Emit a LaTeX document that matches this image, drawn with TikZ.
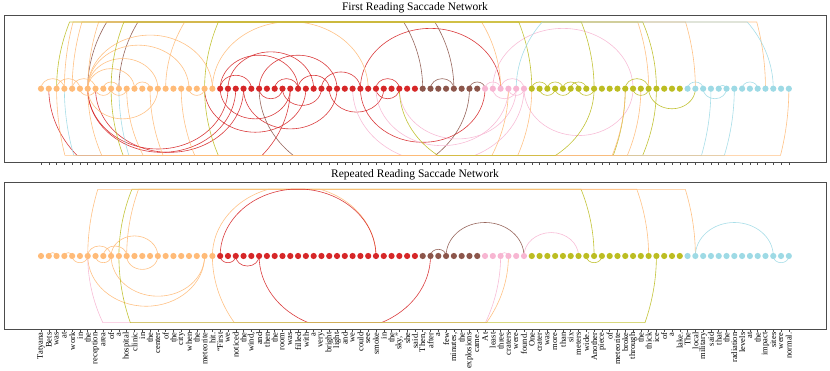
\documentclass[tikz,border=0pt]{standalone}
\usepackage{fontspec}
\setmainfont{Liberation Serif}
\definecolor{co}{HTML}{FFBB78}
\definecolor{cr}{HTML}{D62728}
\definecolor{cb}{HTML}{8C564B}
\definecolor{cp}{HTML}{F7B6D2}
\definecolor{cy}{HTML}{BCBD22}
\definecolor{cc}{HTML}{9EDAE5}
\pgfdeclarelayer{bg}
\pgfsetlayers{bg,main}
\tikzset{
 dot/.style={circle, inner sep=0pt, minimum size=6.2pt, draw=none},
 sacc/.style={line width=0.6pt, draw opacity=0.9},
 frame/.style={draw=black!70, line width=0.8pt},
 tickmark/.style={draw=black!70, line width=0.5pt},
 lbl/.style={rotate=90, anchor=east, inner sep=0.4pt, font=\fontsize{8.5}{9}\selectfont},
 ttl/.style={font=\fontsize{11.5}{13}\selectfont, inner sep=0pt},
}
% #1 panel, #2 from, #3 to (#2<#3), #4 colour, #5 +1 above / -1 below
\newcommand\sac[5]{%
  \pgfmathsetmacro\sacrx{(#3-#2)*7.79/2}%
  \pgfmathsetmacro\sacry{0.86*\sacrx}%
  \pgfmathtruncatemacro\sacclamp{\sacry>66.7}%
  \ifnum\sacclamp=1
    \pgfmathsetmacro\sactz{asin(66.7/\sacry)}%
    \pgfmathsetmacro\sachl{2*\sacrx*cos(\sactz)}%
    \draw[sacc,#4] (#1#2.center) arc[start angle=180, end angle={180-(#5)*\sactz}, x radius=\sacrx pt, y radius=\sacry pt] -- ++(\sachl pt,0) arc[start angle={(#5)*\sactz}, end angle=0, x radius=\sacrx pt, y radius=\sacry pt];
  \else
    \draw[sacc,#4] (#1#2.center) arc[start angle=180, end angle={180-(#5)*180}, x radius=\sacrx pt, y radius=\sacry pt];
  \fi}
\newcommand\sacs[4]{\foreach \sacA/\sacB in {#4} {\sac{#1}{\sacA}{\sacB}{#2}{#3}}}
\begin{document}
\begin{tikzpicture}[x=1pt,y=1pt]
\useasboundingbox (0,0) rectangle (830,371);
% nodes
\foreach \i in {0,...,96} {
  \pgfmathsetmacro\xx{41+7.79*\i}
  \ifnum\i<23 \def\cl{co}\else\ifnum\i<49 \def\cl{cr}\else\ifnum\i<57 \def\cl{cb}\else\ifnum\i<63 \def\cl{cp}\else\ifnum\i<83 \def\cl{cy}\else\def\cl{cc}\fi\fi\fi\fi\fi
  \node[dot, fill=\cl] (a\i) at (\xx,282.3) {};
  \node[dot, fill=\cl] (b\i) at (\xx,115) {};
}
% frames and titles
\draw[frame] (4,208.7) rectangle (826,355.7);
\draw[frame] (4,41.7) rectangle (826,188.7);
\node[ttl] (t1) at (415,363.5) {First Reading Saccade Network};
\node[ttl] (t2) at (415,195.8) {Repeated Reading Saccade Network};
% ticks and labels
\coordinate (ta) at (0,208.7);
\coordinate (tb) at (0,41.7);
\coordinate (lb) at (0,39);
\foreach \w [count=\k from 0] in {Tatyana, Bets, was, at, work, in, the, reception, area, of, a, hospital, clinic, in, the, center, of, the, city, when, the, meteorite, hit., “First, we, noticed, the, {wind,}, and, then, the, room, was, filled, with, a, very, bright, light, and, we, could, see, smoke, in, the, {sky,”}, she, said., {Then,}, after, a, few, {minutes,}, the, explosions, came., At, least, three, craters, were, found., One, crater, was, more, than, six, meters, wide., Another, piece, of, meteorite, broke, through, the, thick, ice, of, a, lake., The, local, military, said, that, the, radiation, levels, at, the, impact, sites, were, normal.} {
  \draw[tickmark] (a\k |- ta) -- ++(0,-3);
  \draw[tickmark] (b\k |- tb) -- ++(0,-3);
  \node[lbl] (l\k) at (b\k |- lb) {\w};
}
\begin{pgfonlayer}{bg}
% ---- First reading ----
\sacs{a}{cr}{1}{23/27,23/33,24/35,28/38,30/33,33/37,36/41,41/59,43/46}
\sacs{a}{cr}{-1}{6/24,6/25,7/26,1/32,21/34,23/32,26/38,28/31,31/36,37/44,41/57,43/46}
\sacs{a}{cb}{1}{6/49,10/53,50/53,55/57}
\sacs{a}{cb}{-1}{28/55}
\sacs{a}{cp}{1}{58/76,57/59,59/62}
\sacs{a}{cp}{-1}{43/60,40/62,46/61,62/76,58/61,60/62}
\sacs{a}{cy}{-1}{21/79,9/75}
\sacs{a}{cc}{-1}{3/86,10/89}
\sacs{a}{co}{1}{0/3,2/5,4/7,8/10,12/14,6/12,6/15,6/19,6/22,22/42,16/59,6/78,3/93,4/84}
\sacs{a}{co}{-1}{5/7,7/9,9/11,6/15,19/21,2/96,11/60,6/63,14/75,18/77}
\sacs{a}{cy}{1}{2/63,9/71,21/79,63/65,65/67,67/69,68/70,75/78}
\sacs{a}{cy}{-1}{46/71,64/66,66/68,69/71,76/78,78/84}
\sacs{a}{cc}{1}{61/94,83/85,87/88,90/92}
\sacs{a}{cc}{-1}{85/88}
% ---- Repeated reading ----
\sacs{b}{cy}{1}{10/71}
\sacs{b}{co}{1}{1/2,3/4,6/9,8/11,9/15,22/43,6/84,11/78}
\sacs{b}{co}{-1}{4/6,7/9,11/15,6/21,9/21,22/60}
\sacs{b}{cr}{1}{23/43}
\sacs{b}{cr}{-1}{23/25,25/28,28/50}
\sacs{b}{cb}{1}{50/52,52/62}
\sacs{b}{cp}{-1}{6/59}
\sacs{b}{cp}{1}{62/69,59/60}
\sacs{b}{cy}{-1}{10/79,70/72}
\sacs{b}{cc}{1}{84/94}
\sacs{b}{cc}{-1}{94/96}
\end{pgfonlayer}
\end{tikzpicture}
\end{document}
